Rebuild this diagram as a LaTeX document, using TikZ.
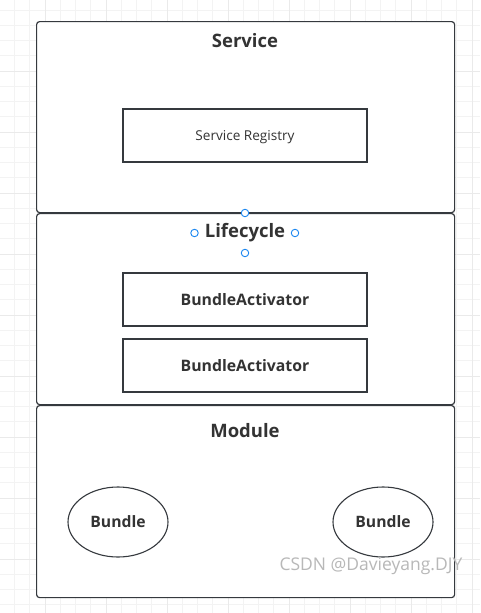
\documentclass[tikz,border=0pt]{standalone}
\usepackage{fontspec}
\setmainfont{Open Sans}
\usetikzlibrary{shapes.geometric,positioning}
\definecolor{Frame}{HTML}{35393E}
\definecolor{Ink}{HTML}{333333}
\definecolor{GridMinor}{HTML}{F3F3F3}
\definecolor{GridMajor}{HTML}{EAEAEA}
\definecolor{Handle}{HTML}{1A86F0}
\definecolor{Mark}{HTML}{B8B8B8}

\begin{document}
\begin{tikzpicture}[x=1pt,y=-1pt,
  gridminor/.style={draw=GridMinor,line width=0.9pt},
  gridmajor/.style={draw=GridMajor,line width=0.9pt},
  layer/.style={draw=Frame,fill=white,line width=1.2pt,rounded corners=3pt,
    anchor=north west,minimum width=418pt,inner sep=0pt},
  title/.style={font=\fontsize{18.5}{20}\selectfont\bfseries,text=Ink},
  box/.style={draw=Frame,fill=white,line width=1.1pt,minimum width=244pt,
    minimum height=53pt,inner sep=0pt,text=Ink,text depth=0pt},
  bundle/.style={ellipse,draw=Frame,fill=white,line width=1.1pt,minimum width=100pt,
    minimum height=70pt,inner sep=0pt,text=Ink,text depth=0pt,
    font=\fontsize{15.7}{18}\selectfont\bfseries},
  handle/.style={circle,draw=Handle,fill=white,line width=0.9pt,minimum size=7.5pt,inner sep=0pt}
]
\useasboundingbox (0,0) rectangle (480,613);
\fill[white] (0,0) rectangle (480,613);

% background grid
\foreach \gx in {-0.75,14.5,...,480}
  \draw[gridminor] (\gx,0) -- (\gx,613);
\foreach \gy in {10,25.25,...,613}
  \draw[gridminor] (0,\gy) -- (480,\gy);
\foreach \gx in {45,106,...,480}
  \draw[gridmajor] (\gx,0) -- (\gx,613);
\foreach \gy in {71,132,...,613}
  \draw[gridmajor] (0,\gy) -- (480,\gy);

% layers
\node[layer,minimum height=191pt] (svc) at (36,21) {};
\node[layer,minimum height=191pt] (life) at (36,213) {};
\node[layer,minimum height=192pt] (mod) at (36,405) {};

\node[title] (svctitle) at (245,41) {Service};
\node[title] (lifetitle) at (245,233) {Lifecycle};
\node[title] (modtitle) at (245,431) {Module};

\node[box,font=\fontsize{13.6}{15}\selectfont] (registry) at (245,135.5) {Service Registry};
\node[box,font=\fontsize{15.8}{18}\selectfont\bfseries] (act1) at (245,299.5) {BundleActivator};
\node[box,font=\fontsize{15.8}{18}\selectfont\bfseries] (act2) at (245,365.5) {BundleActivator};

\node[bundle] (bundleL) at (118,522) {Bundle};
\node[bundle] (bundleR) at (383,522) {Bundle};

% selection handles
\node[handle] (hN) at (245,213) {};
\node[handle] (hW) at (194.5,233) {};
\node[handle] (hE) at (295,233) {};
\node[handle] (hS) at (245,253) {};

\node[text=Mark,font=\fontsize{17.5}{19}\selectfont,anchor=west] (mark) at (276,566) {CSDN @Davieyang.DJY};
\end{tikzpicture}
\end{document}
